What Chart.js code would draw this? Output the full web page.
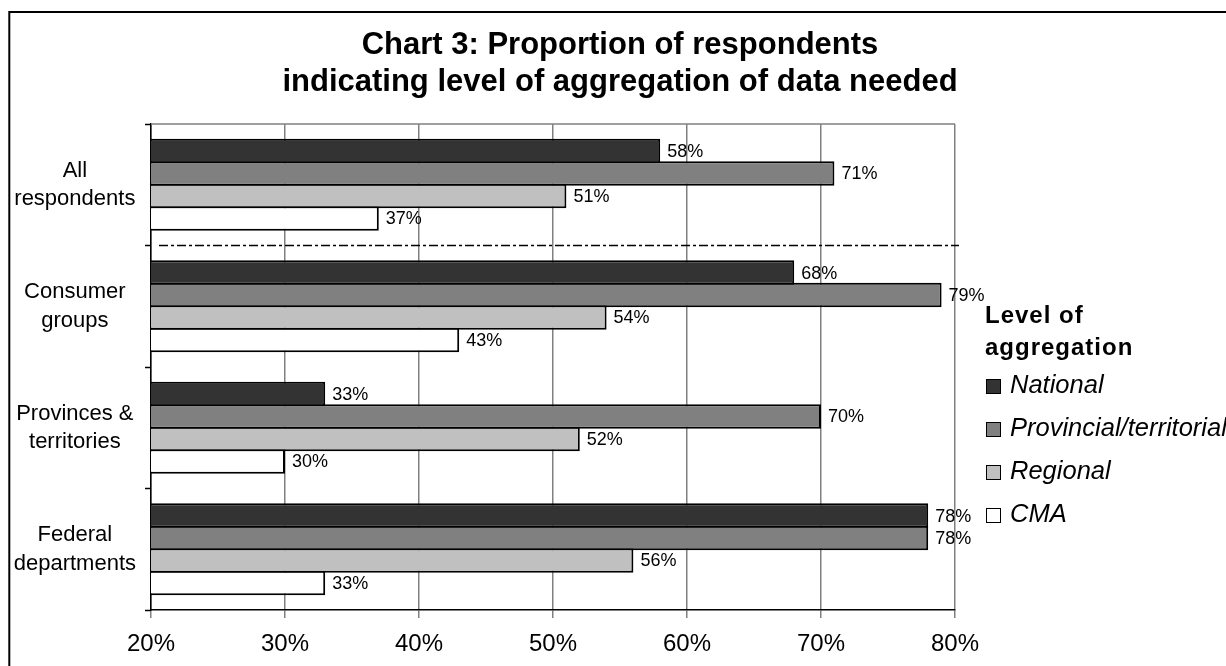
<!DOCTYPE html>
<html>
<head>
<meta charset="utf-8">
<script src="https://cdn.jsdelivr.net/npm/chart.js@4.4.1/dist/chart.umd.min.js"></script>
<style>
  html, body { margin: 0; padding: 0; background: #ffffff; }
  canvas { display: block; }
</style>
</head>
<body>
<canvas id="chart" width="1226" height="666"></canvas>
<script>
// Respondent groups (one row of bars each, top to bottom)
const categories = [
  ['All', 'respondents'],
  ['Consumer', 'groups'],
  ['Provinces &', 'territories'],
  ['Federal', 'departments']
];

// Level of aggregation series
const seriesNames = ['National', 'Provincial/territorial', 'Regional', 'CMA'];

// Percent of respondents needing each level
const national   = [58, 68, 33, 78];
const provincial = [71, 79, 70, 78];
const regional   = [51, 54, 52, 56];
const cma        = [37, 43, 30, 33];

// Horizontal axis ticks (percent)
const tickValues = [20, 30, 40, 50, 60, 70, 80];

const titleLines = ['Chart 3: Proportion of respondents', 'indicating level of aggregation of data needed'];
const legendTitle = ['Level of', 'aggregation'];

const fills = ['#333333', '#808080', '#c0c0c0', '#ffffff'];
const FONT = '"Liberation Sans", Arial, Helvetica, sans-serif';

const seriesValues = [national, provincial, regional, cma];

// Outer frame of the chart object (left and top edges are visible)
const framePlugin = {
  id: 'frame',
  beforeDraw(chart) {
    const ctx = chart.ctx;
    ctx.save();
    ctx.fillStyle = '#ffffff';
    ctx.fillRect(0, 0, chart.width, chart.height);
    ctx.strokeStyle = '#000000';
    ctx.lineWidth = 2;
    ctx.strokeRect(9.3, 12, chart.width + 40, chart.height + 40);
    ctx.restore();
  }
};

// Centre the title over the whole frame rather than over the plot column
const titleSpan = {
  id: 'titleSpan',
  afterLayout(chart) {
    const t = chart.titleBlock;
    if (t) {
      t.left = 12;
      t.right = chart.width + 2;
      t.width = t.right - t.left;
    }
  }
};

// Gray top edge of the plot area
const plotEdge = {
  id: 'plotEdge',
  beforeDatasetsDraw(chart) {
    const { ctx, chartArea } = chart;
    ctx.save();
    ctx.strokeStyle = '#808080';
    ctx.lineWidth = 1.5;
    ctx.beginPath();
    ctx.moveTo(chartArea.left, chartArea.top);
    ctx.lineTo(chartArea.right, chartArea.top);
    ctx.stroke();
    ctx.restore();
  }
};

// Dash-dot separator between "All respondents" and the sub-groups
const separator = {
  id: 'separator',
  afterDatasetsDraw(chart) {
    const { ctx, chartArea } = chart;
    const y = chart.scales.y;
    const yy = (y.getPixelForTick(0) + y.getPixelForTick(1)) / 2;
    ctx.save();
    ctx.strokeStyle = '#000000';
    ctx.lineWidth = 1.5;
    ctx.setLineDash([9, 3, 3, 3]);
    ctx.beginPath();
    ctx.moveTo(chartArea.left + 8, yy);
    ctx.lineTo(chartArea.right + 4, yy);
    ctx.stroke();
    ctx.restore();
  }
};

// Value labels at the end of each bar
const valueLabels = {
  id: 'valueLabels',
  afterDatasetsDraw(chart) {
    const ctx = chart.ctx;
    ctx.save();
    ctx.fillStyle = '#000000';
    ctx.font = '18px ' + FONT;
    ctx.textAlign = 'left';
    ctx.textBaseline = 'middle';
    chart.data.datasets.forEach((ds, i) => {
      const meta = chart.getDatasetMeta(i);
      meta.data.forEach((bar, j) => {
        ctx.fillText(ds.data[j] + '%', bar.x + 7, bar.y + 1);
      });
    });
    ctx.restore();
  }
};

// Legend panel to the right of the plot
const legendPanel = {
  id: 'legendPanel',
  afterDraw(chart) {
    const { ctx, chartArea } = chart;
    const x0 = chartArea.right + 30;
    const top = chartArea.top;
    ctx.save();
    ctx.fillStyle = '#000000';
    ctx.textAlign = 'left';
    ctx.textBaseline = 'alphabetic';
    ctx.font = 'bold 24px ' + FONT;
    if ('letterSpacing' in ctx) ctx.letterSpacing = '1px';
    legendTitle.forEach((line, k) => ctx.fillText(line, x0, top + 199 + k * 32));
    if ('letterSpacing' in ctx) ctx.letterSpacing = '0px';
    ctx.font = 'italic 25.5px ' + FONT;
    chart.data.datasets.forEach((ds, i) => {
      const base = top + 269 + i * 43;
      ctx.fillStyle = ds.backgroundColor;
      ctx.fillRect(x0 + 1, base - 14, 15, 15);
      ctx.strokeStyle = '#000000';
      ctx.lineWidth = 1;
      ctx.strokeRect(x0 + 1.5, base - 13.5, 14, 14);
      ctx.fillStyle = '#000000';
      ctx.fillText(ds.label, x0 + 25, base);
    });
    ctx.restore();
  }
};

new Chart(document.getElementById('chart'), {
  type: 'bar',
  data: {
    labels: categories,
    datasets: seriesValues.map((vals, i) => ({
      label: seriesNames[i],
      data: vals,
      backgroundColor: fills[i],
      borderColor: '#000000',
      borderWidth: 2,
      borderSkipped: false,
      categoryPercentage: 0.74,
      barPercentage: 1.089
    }))
  },
  options: {
    indexAxis: 'y',
    responsive: false,
    animation: false,
    devicePixelRatio: 1,
    layout: { padding: { left: 0, right: 271, top: 0, bottom: 0 } },
    plugins: {
      legend: { display: false },
      tooltip: { enabled: false },
      title: {
        display: true,
        text: titleLines,
        color: '#000000',
        font: { family: FONT, size: 31, weight: 'bold', lineHeight: 1.2 },
        padding: { top: 27, bottom: 22.6 }
      }
    },
    scales: {
      x: {
        min: 20,
        max: 80,
        afterBuildTicks: (scale) => { scale.ticks = tickValues.map(v => ({ value: v })); },
        afterFit: (scale) => { scale.height = 56; },
        ticks: {
          callback: (v) => v + '%',
          color: '#000000',
          font: { family: FONT, size: 24 },
          padding: 12,
          maxRotation: 0,
          autoSkip: false
        },
        grid: { color: '#808080', lineWidth: 1.5, tickLength: 8 },
        border: { color: '#000000', width: 1.5 }
      },
      y: {
        afterFit: (scale) => { scale.width = 151; },
        ticks: {
          color: '#000000',
          font: { family: FONT, size: 22, lineHeight: 1.3 },
          crossAlign: 'center',
          padding: 9
        },
        grid: { drawOnChartArea: false, offset: true, tickLength: 6, tickColor: '#000000', tickWidth: 1.5 },
        border: { color: '#000000', width: 1.5 }
      }
    }
  },
  plugins: [framePlugin, titleSpan, plotEdge, separator, valueLabels, legendPanel]
});
</script>
</body>
</html>
